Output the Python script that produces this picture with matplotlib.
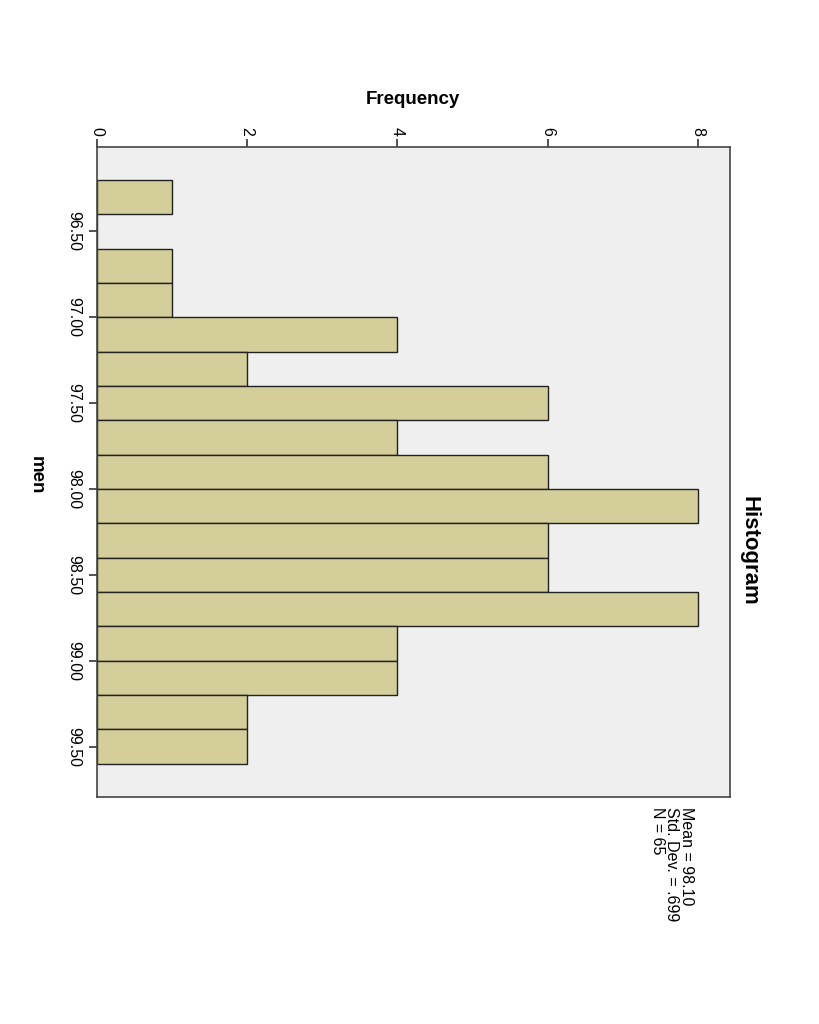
import matplotlib
matplotlib.use("Agg")
import matplotlib.pyplot as plt

# bin edges (lower) and counts for "men" temperatures, bin width 0.2
bin_lo = [96.2, 96.4, 96.6, 96.8, 97.0, 97.2, 97.4, 97.6, 97.8,
          98.0, 98.2, 98.4, 98.6, 98.8, 99.0, 99.2, 99.4]
counts = [1, 0, 1, 1, 4, 2, 6, 4, 6, 8, 6, 6, 8, 4, 4, 2, 2]
bin_w = 0.2
men_ticks = [96.5, 97.0, 97.5, 98.0, 98.5, 99.0, 99.5]
freq_ticks = [0, 2, 4, 6, 8]
stats_text = "Mean = 98.10\nStd. Dev. = .699\nN = 65"

plt.rcParams['font.family'] = ['Liberation Sans', 'DejaVu Sans']

fig = plt.figure(figsize=(8.2, 10.24), dpi=100)
ax = fig.add_axes([97 / 820, 1 - 797 / 1024, 633 / 820, 650 / 1024])
ax.set_facecolor('#efefef')

ax.barh(bin_lo, counts, height=bin_w, align='edge',
        color='#d3ce9a', edgecolor='#222222', linewidth=1.0)

ax.set_xlim(0, 8.43)
ax.set_ylim(99.794, 96.008)

ax.xaxis.tick_top()
ax.set_xticks(freq_ticks)
ax.set_xticklabels([str(t) for t in freq_ticks], rotation=-90, fontsize=11.5)
ax.set_yticks(men_ticks)
ax.set_yticklabels([f"{t:.2f}" for t in men_ticks], rotation=-90,
                   fontsize=11.5, va='center')
ax.tick_params(axis='both', length=6, width=1.2, color='#333333')
ax.tick_params(axis='y', pad=5)
ax.tick_params(axis='x', pad=2)

for s in ax.spines.values():
    s.set_color('#444444')
    s.set_linewidth(1.2)

fig.text(413 / 820, 1 - 99 / 1024, "Frequency", ha='center', va='center',
         fontsize=13.5, fontweight='bold')
fig.text(36 / 820, 1 - 475 / 1024, "men", ha='center', va='center',
         rotation=-90, fontsize=13.5, fontweight='bold')
fig.text(749 / 820, 1 - 551 / 1024, "Histogram", ha='center', va='center',
         rotation=-90, fontsize=16, fontweight='bold')
fig.text(672 / 820, 1 - 807 / 1024, stats_text, ha='center', va='top',
         rotation=-90, fontsize=11.5, linespacing=0.95,
         multialignment='left')

fig.savefig("out.png", dpi=100)
